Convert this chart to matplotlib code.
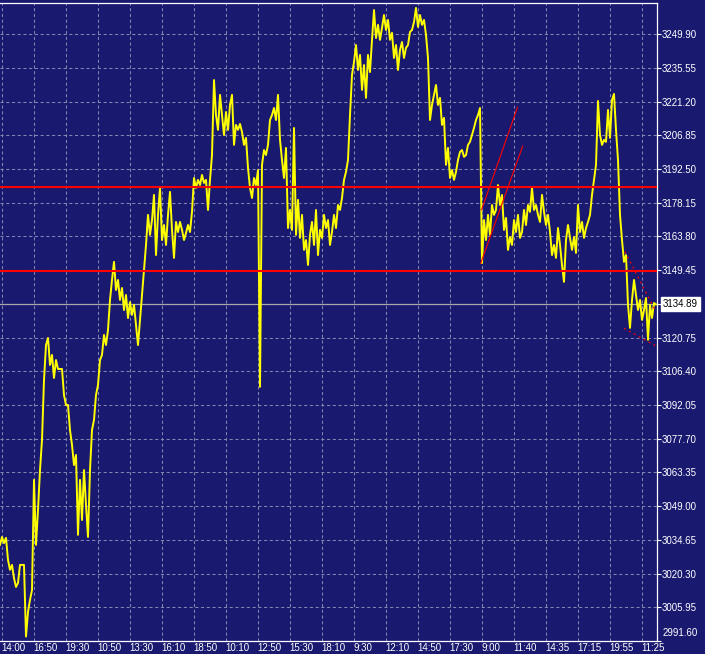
import numpy as np
import matplotlib
matplotlib.use("Agg")
import matplotlib.pyplot as plt

# Close prices, one bar every 2 px of the original chart (oldest first).
prices = [
    3032.5, 3035.9, 3033.3, 3035.5, 3026.1, 3021.9, 3024.0, 3018.4, 3014.6, 3016.3,
    3024.0, 3024.0, 3024.0, 2993.5, 3004.0, 3009.1, 3013.3, 3060.2, 3032.5, 3047.4,
    3064.4, 3077.2, 3102.7, 3117.6, 3120.6, 3109.1, 3113.4, 3103.6, 3111.2, 3107.4,
    3107.4, 3107.4, 3096.3, 3092.1, 3092.1, 3081.4, 3075.1, 3066.5, 3070.8, 3036.8,
    3060.2, 3043.1, 3064.4, 3049.5, 3035.9, 3064.4, 3081.4, 3085.7, 3096.3, 3100.6,
    3111.2, 3113.4, 3121.9, 3117.6, 3124.0, 3136.8, 3145.3, 3153.0, 3141.0, 3145.3,
    3136.8, 3141.9, 3132.5, 3138.9, 3129.1, 3135.9, 3130.4, 3134.7, 3126.1, 3117.6,
    3128.3, 3138.9, 3149.6, 3160.2, 3173.0, 3164.5, 3170.8, 3181.5, 3155.9, 3173.0,
    3184.5, 3162.3, 3168.7, 3160.2, 3173.0, 3182.8, 3166.6, 3154.7, 3170.0, 3165.7,
    3170.0, 3166.6, 3162.3, 3165.3, 3168.7, 3165.7, 3174.3, 3188.7, 3184.5, 3187.9,
    3185.7, 3190.0, 3186.6, 3187.9, 3175.1, 3187.9, 3198.5, 3230.4, 3215.5, 3209.2,
    3224.1, 3215.5, 3207.0, 3216.8, 3209.2, 3219.8, 3224.1, 3202.8, 3211.3, 3209.2,
    3211.7, 3208.3, 3202.8, 3205.8, 3193.0, 3184.5, 3180.2, 3188.7, 3185.7, 3192.1,
    3099.8, 3194.3, 3200.6, 3198.5, 3202.8, 3213.4, 3215.5, 3218.5, 3213.4, 3224.1,
    3204.9, 3196.4, 3188.7, 3201.5, 3167.4, 3175.1, 3166.6, 3210.0, 3164.5, 3179.4,
    3163.2, 3173.0, 3158.1, 3162.3, 3151.7, 3164.5, 3170.0, 3160.2, 3175.1, 3155.9,
    3166.6, 3163.2, 3173.0, 3167.4, 3170.8, 3160.2, 3165.7, 3173.0, 3167.4, 3177.2,
    3175.1, 3180.2, 3187.9, 3191.3, 3196.4, 3215.5, 3232.6, 3238.1, 3245.3, 3234.7,
    3241.1, 3226.2, 3236.8, 3222.8, 3241.1, 3233.8, 3247.5, 3260.2, 3248.3, 3253.9,
    3247.5, 3252.6, 3258.1, 3251.7, 3256.0, 3247.5, 3250.5, 3239.8, 3245.3, 3234.7,
    3243.2, 3246.6, 3239.8, 3244.1, 3245.3, 3250.9, 3251.7, 3255.1, 3261.1, 3253.0,
    3258.1, 3253.9, 3256.0, 3249.6, 3239.8, 3213.4, 3219.8, 3224.1, 3228.3, 3219.8,
    3222.8, 3211.3, 3214.3, 3194.3, 3201.5, 3188.7, 3192.1, 3187.9, 3191.3, 3196.4,
    3199.8, 3200.6, 3197.7, 3198.5, 3202.8, 3204.1, 3207.0, 3210.0, 3213.4, 3215.5,
    3218.5, 3152.5, 3170.8, 3162.3, 3173.0, 3164.5, 3177.2, 3173.0, 3175.1, 3185.7,
    3177.2, 3181.5, 3166.6, 3171.7, 3158.1, 3163.6, 3160.2, 3170.8, 3165.7, 3173.0,
    3163.2, 3165.7, 3175.1, 3168.7, 3177.2, 3174.3, 3184.5, 3175.1, 3177.2, 3173.0,
    3170.0, 3181.5, 3174.3, 3168.7, 3173.0, 3165.7, 3155.9, 3160.2, 3154.7, 3167.4,
    3160.2, 3151.7, 3144.5, 3162.3, 3168.7, 3163.2, 3158.1, 3163.6, 3156.8, 3177.2,
    3165.7, 3170.0, 3163.2, 3167.4, 3170.0, 3173.0, 3181.5, 3187.9, 3194.3, 3221.5,
    3207.0, 3202.8, 3204.9, 3204.1, 3217.7, 3205.8, 3221.9, 3224.5, 3209.2, 3196.4,
    3173.0, 3162.3, 3153.0, 3155.9, 3134.7, 3124.9, 3136.8, 3145.3, 3138.9, 3132.5,
    3136.8, 3128.3, 3132.5, 3137.6, 3119.8, 3134.7, 3129.1, 3135.5, 3134.89,
]
last_price = 3134.89

time_labels = ["14:00", "16:50", "19:30", "10:50", "13:30", "16:10", "18:50",
               "10:10", "12:50", "15:30", "18:10", "9:30", "12:10", "14:50",
               "17:30", "9:00", "11:40", "14:35", "17:15", "19:55", "11:25"]
price_ticks = [2991.60, 3005.95, 3020.30, 3034.65, 3049.00, 3063.35, 3077.70,
               3092.05, 3106.40, 3120.75, 3135.10, 3149.45, 3163.80, 3178.15,
               3192.50, 3206.85, 3221.20, 3235.55, 3249.90]

# horizontal support / resistance levels
levels = [3185.0, 3149.3]
# rising channel drawn after the gap (bar, price endpoints)
trend_a_bars, trend_a_prices = [240.75, 258.75], [3175.1, 3218.8]
trend_b_bars, trend_b_prices = [240.35, 261.35], [3152.4, 3202.3]
# dotted lines at the right edge
dot_hi_bars, dot_hi_prices = [312.5, 327.5], [3157.3, 3132.5]
dot_lo_bars, dot_lo_prices = [312.0, 328.0], [3124.7, 3117.2]

BG = "#191970"
GRID = "#8484ae"
FONT = "Liberation Sans"
FS = 7

fig = plt.figure(figsize=(7.05, 6.54), dpi=100, facecolor=BG)
ax = fig.add_axes([0, 13 / 654, 657 / 705, 638 / 654], facecolor=BG)

bars = np.arange(len(prices))
grid_x = 0.85 + 16 * np.arange(len(time_labels))

ax.set_xlim(0, 328.5)
ax.set_ylim(2991.6, 3263.2)

for gx in grid_x:
    ax.axvline(gx, color=GRID, lw=0.75, ls=(0, (3, 2.5)), zorder=1)
for py in price_ticks[1:]:
    ax.axhline(py, color=GRID, lw=0.75, ls=(0, (3, 2.5)), zorder=1)

ax.axhline(last_price, color="#a8a8a8", lw=0.9, zorder=2)
ax.plot(bars, prices, color="#ffff00", lw=1.4, zorder=3)

for lv in levels:
    ax.axhline(lv, color="#ff0000", lw=1.5, zorder=4)
ax.plot(trend_a_bars, trend_a_prices, color="#ff0000", lw=0.8, zorder=4)
ax.plot(trend_b_bars, trend_b_prices, color="#ff0000", lw=0.8, zorder=4)
ax.plot(dot_hi_bars, dot_hi_prices, color="#ff0000", lw=0.9, ls=(0, (1.5, 3)), zorder=4)
ax.plot(dot_lo_bars, dot_lo_prices, color="#ff0000", lw=0.9, ls=(0, (1.5, 3)), zorder=4)

# axes frame
for side in ("top", "right", "bottom"):
    ax.spines[side].set_color("white")
    ax.spines[side].set_linewidth(0.9)
ax.spines["left"].set_visible(False)

ax.set_xticks(grid_x)
ax.set_xticklabels(time_labels, ha="left", fontsize=FS, family=FONT, color="white")
ax.tick_params(axis="x", length=0, pad=1.5)

ax.yaxis.tick_right()
ax.set_yticks(price_ticks)
ylabels = [f"{v:.2f}" for v in price_ticks]
ylabels[0] = ""
ylabels[price_ticks.index(3135.10)] = ""
ax.set_yticklabels(ylabels, fontsize=FS, family=FONT, color="white")
ax.tick_params(axis="y", length=3, width=0.8, color="white", pad=0.6)

ax.annotate(f"{price_ticks[0]:.2f}", xy=(1, price_ticks[0]),
            xycoords=("axes fraction", "data"), xytext=(4.3, 6),
            textcoords="offset points", ha="left", va="center",
            fontsize=FS, family=FONT, color="white", annotation_clip=False)

ax.annotate(f"{last_price:.2f}", xy=(1, last_price),
            xycoords=("axes fraction", "data"), xytext=(4.3, 0),
            textcoords="offset points", ha="left", va="center",
            fontsize=FS, family=FONT, color="black", annotation_clip=False,
            bbox=dict(boxstyle="square,pad=0.2", fc="white", ec="white"),
            zorder=6)

fig.savefig("out.png", dpi=100, facecolor=BG)
